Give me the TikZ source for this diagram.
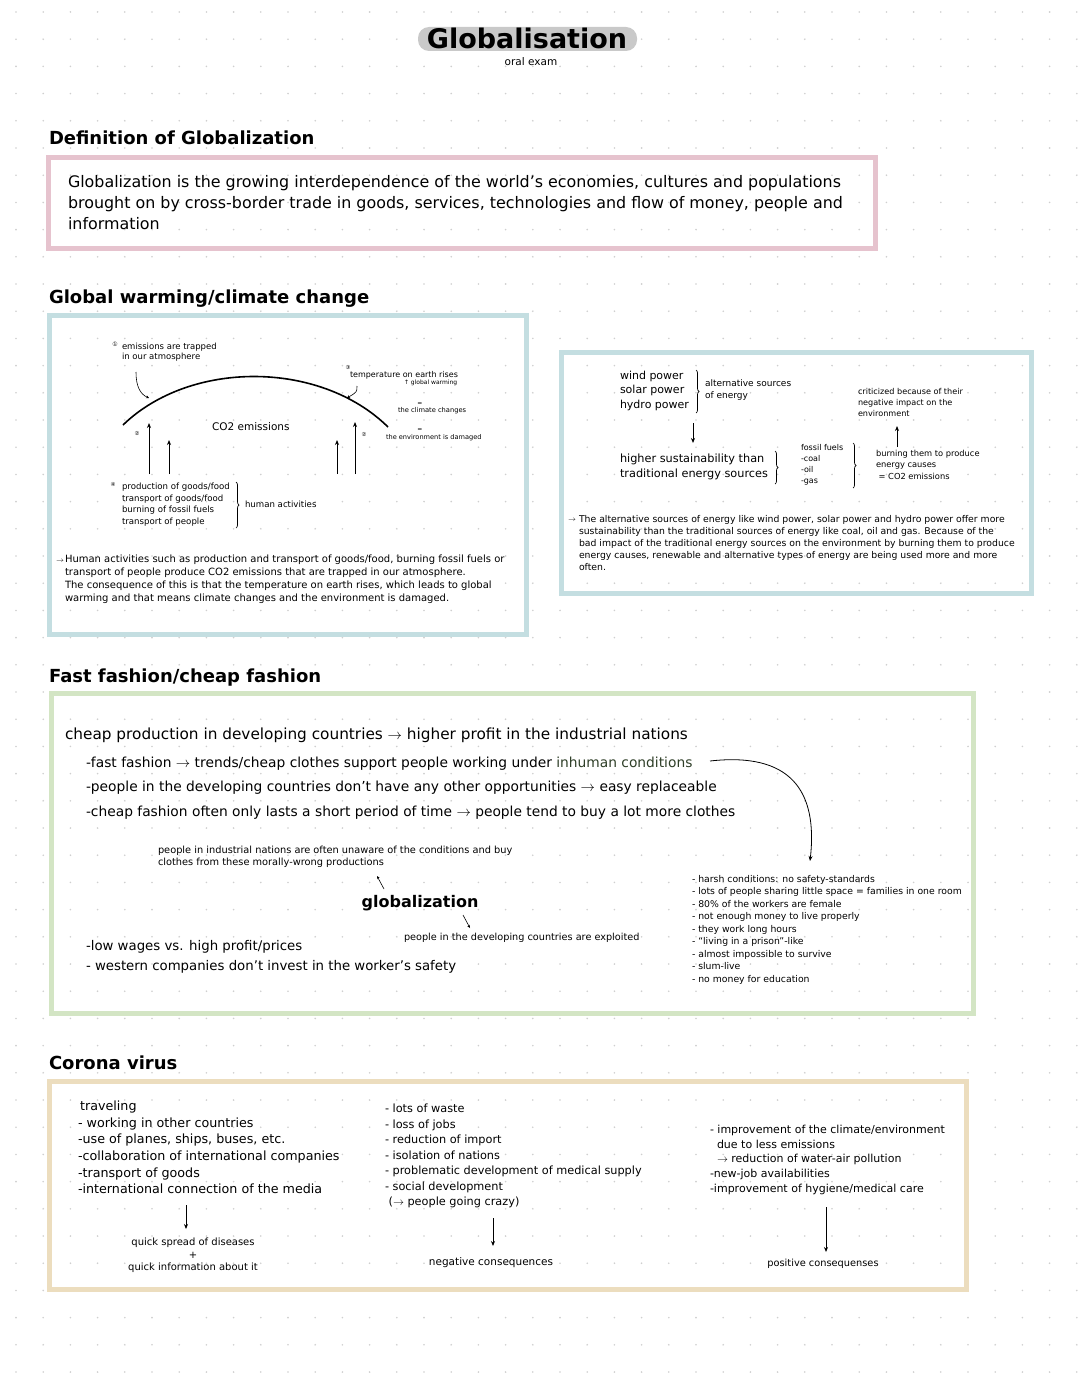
\documentclass[tikz,border=0pt]{standalone}
\usepackage{fontspec}
\setmainfont{DejaVu Sans}
\newfontfamily\dv{DejaVu Sans}
\usetikzlibrary{decorations.pathreplacing,arrows.meta}
\definecolor{dotc}{HTML}{CFCFCF}
\definecolor{pinkb}{HTML}{E6C3CE}
\definecolor{blueb}{HTML}{C4DEE1}
\definecolor{greenb}{HTML}{D3E5C4}
\definecolor{tanb}{HTML}{ECDDBE}
\definecolor{hl}{HTML}{C9C9C9}
\newcommand\fs[2]{\fontsize{#1}{#2}\selectfont}
\begin{document}
\begin{tikzpicture}[x=1pt,y=-1pt,
  t/.style={anchor=north west,inner sep=0pt,outer sep=0pt,align=left},
  tc/.style={anchor=north,inner sep=0pt,outer sep=0pt,align=center},
  head/.style={t,font=\fs{18}{22}\bfseries},
  frame/.style={line width=5pt},
  arr/.style={-{Stealth[length=5pt,width=4pt]},line width=0.9pt},
  sarr/.style={-{Stealth[length=3pt,width=3pt]},line width=0.6pt},
  brk/.style={decorate,decoration={brace,amplitude=3pt},line width=0.7pt}]
\useasboundingbox (0,0) rectangle (1080,1394);
\fill[white] (0,0) rectangle (1080,1394);
\foreach \i in {0,...,39}{\foreach \j in {0,...,51}{\fill[dotc] (16+\i*27.2,12+\j*27.2) circle (0.9);}}
% title
\fill[hl,rounded corners=11pt] (418,27) rectangle (637,51);
\node[inner sep=0pt,font=\fs{27}{30}\bfseries] (title) at (527,38) {Globalisation};
\node[inner sep=0pt,font=\fs{10.5}{12}] (oral) at (531,62) {oral exam};
% definition
\node[head] (h1) at (49,131) {Definition of Globalization};
\draw[frame,pinkb] (48,157) rectangle (875,248);
\node[t,font=\fs{15.9}{21}] (def) at (68,175) {Globalization is the growing interdependence of the world's economies, cultures and populations\\brought on by cross-border trade in goods, services, technologies and flow of money, people and\\information};
% global warming
\node[head] (h2) at (49,290) {Global warming/climate change};
\draw[frame,blueb] (49,315) rectangle (526,634);
\draw[frame,blueb] (561,352) rectangle (1031,593);
\node[inner sep=0pt,font=\dv\fs{6}{7}] (n1) at (115,344) {①};
\node[t,font=\fs{8.5}{10.5}] (emis) at (122,343) {emissions are trapped\\in our atmosphere};
\draw[line width=1.6pt] (123,425) .. controls (190,360) and (320,360) .. (388,427);
\coordinate (c1a) at (136,372); \coordinate (c1b) at (149,398);
\draw[sarr] (c1a) .. controls (136,386) and (140,394) .. (c1b);
\node[inner sep=0pt,font=\dv\fs{5.5}{6}] (n3) at (348,367) {③};
\node[t,font=\fs{8}{9}] (temp) at (350,371) {temperature on earth rises};
\node[t,font=\fs{6}{7}] (gw) at (404,380) {↑ global warming};
\node[inner sep=0pt,font=\fs{6}{6}] (eq1) at (420,404) {=};
\node[t,font=\fs{6.7}{8}] (clim) at (398,407) {the climate changes};
\node[inner sep=0pt,font=\fs{6}{6}] (eq2) at (420,430) {=};
\node[t,font=\fs{6.6}{8}] (envd) at (386,434) {the environment is damaged};
\coordinate (c3a) at (357,386); \coordinate (c3b) at (347,398);
\draw[sarr] (c3a) .. controls (357,392) .. (c3b);
\node[t,font=\fs{10.5}{13}] (co2) at (212,423) {CO2 emissions};
\node[inner sep=0pt,font=\dv\fs{5.5}{6}] (n2a) at (137,433) {②};
\node[inner sep=0pt,font=\dv\fs{5.5}{6}] (n2b) at (364,434) {②};
\coordinate (a1b) at (149,474); \coordinate (a1t) at (149,423);
\coordinate (a2b) at (169,474); \coordinate (a2t) at (169,440);
\coordinate (a3b) at (337,474); \coordinate (a3t) at (337,440);
\coordinate (a4b) at (355,474); \coordinate (a4t) at (355,422);
\draw[arr] (a1b) -- (a1t); \draw[arr] (a2b) -- (a2t);
\draw[arr] (a3b) -- (a3t); \draw[arr] (a4b) -- (a4t);
\node[inner sep=0pt,font=\dv\fs{5.5}{6}] (n4) at (113,484) {④};
\node[t,font=\fs{8.6}{11.5}] (hact) at (122,483) {production of goods/food\\transport of goods/food\\burning of fossil fuels\\transport of people};
\coordinate (b1t) at (236,482); \coordinate (b1b) at (236,528);
\draw[brk] (b1t) -- (b1b);
\node[t,font=\fs{8.6}{10}] (hum) at (245,501) {human activities};
\node[t,font=\fs{10}{13}] (gwp) at (65,555) {Human activities such as production and transport of goods/food, burning fossil fuels or\\transport of people produce CO2 emissions that are trapped in our atmosphere.\\The consequence of this is that the temperature on earth rises, which leads to global\\warming and that means climate changes and the environment is damaged.};
\node[inner sep=0pt,font=\fs{7}{8}] (gwa) at (60,561) {$\rightarrow$};
% energy
\node[t,font=\fs{11}{14.5}] (alt) at (620,371) {wind power\\solar power\\hydro power};
\coordinate (b2t) at (696,370); \coordinate (b2b) at (696,413);
\draw[brk] (b2t) -- (b2b);
\node[t,font=\fs{9}{12}] (alts) at (705,380) {alternative sources\\of energy};
\coordinate (e1t) at (693,423); \coordinate (e1b) at (693,443);
\draw[arr] (e1t) -- (e1b);
\node[t,font=\fs{11.3}{14.5}] (sus) at (620,454) {higher sustainability than\\traditional energy sources};
\coordinate (b3t) at (775,451); \coordinate (b3b) at (775,484);
\draw[brk] (b3t) -- (b3b);
\node[t,font=\fs{8}{11}] (fos) at (801,444) {fossil fuels\\-coal\\-oil\\-gas};
\coordinate (b4t) at (853,443); \coordinate (b4b) at (853,488);
\draw[brk] (b4t) -- (b4b);
\node[t,font=\fs{8.1}{11}] (crit) at (858,388) {criticized because of their\\negative impact on the\\environment};
\coordinate (e2b) at (897,447); \coordinate (e2t) at (897,426);
\draw[arr] (e2b) -- (e2t);
\node[t,font=\fs{8.3}{11.5}] (burn) at (876,450) {burning them to produce\\energy causes\\\ = CO2 emissions};
\node[t,font=\fs{9.3}{12.2}] (enp) at (579,515) {The alternative sources of energy like wind power, solar power and hydro power offer more\\sustainability than the traditional sources of energy like coal, oil and gas. Because of the\\bad impact of the traditional energy sources on the environment by burning them to produce\\energy causes, renewable and alternative types of energy are being used more and more\\often.};
\node[inner sep=0pt,font=\fs{7}{8}] (ena) at (572,520) {$\rightarrow$};
% fast fashion
\node[head] (h3) at (49,669) {Fast fashion/cheap fashion};
\draw[frame,greenb] (51,693) rectangle (973,1013);
\node[t,font=\fs{15.3}{18}] (ff1) at (65,728) {cheap production in developing countries $\rightarrow$ higher profit in the industrial nations};
\node[t,font=\fs{13.8}{24.5}] (ff2) at (86,757) {-fast fashion $\rightarrow$ trends/cheap clothes support people working under \textcolor[HTML]{2F3F28}{inhuman conditions}\\-people in the developing countries don't have any other opportunities $\rightarrow$ easy replaceable\\-cheap fashion often only lasts a short period of time $\rightarrow$ people tend to buy a lot more clothes};
\coordinate (cvs) at (710,761); \coordinate (cve) at (810,861);
\draw[arr,line width=0.8pt] (cvs) .. controls (790,752) and (818,790) .. (cve);
\node[t,font=\fs{9.8}{12}] (unaw) at (158,846) {people in industrial nations are often unaware of the conditions and buy\\clothes from these morally-wrong productions};
\node[inner sep=0pt,font=\fs{16}{20}\bfseries] (glob) at (420,903) {globalization};
\coordinate (g1s) at (384,889); \coordinate (g1e) at (377,876);
\draw[sarr] (g1s) -- (g1e);
\coordinate (g2s) at (463,915); \coordinate (g2e) at (470,928);
\draw[sarr] (g2s) -- (g2e);
\node[t,font=\fs{9.7}{12}] (expl) at (404,933) {people in the developing countries are exploited};
\node[t,font=\fs{13.3}{20}] (wage) at (86,940) {-low wages vs. high profit/prices\\- western companies don't invest in the worker's safety};
\node[t,font=\fs{9.3}{12.5}] (cond) at (692,875) {- harsh conditions: no safety-standards\\- lots of people sharing little space = families in one room\\- 80\% of the workers are female\\- not enough money to live properly\\- they work long hours\\- ``living in a prison''-like\\- almost impossible to survive\\- slum-live\\- no money for education};
% corona
\node[head] (h4) at (49,1056) {Corona virus};
\draw[frame,tanb] (49,1081) rectangle (966,1289);
\node[t,font=\fs{12.7}{16.6}] (cl) at (78,1101) {\,traveling\\- working in other countries\\-use of planes, ships, buses, etc.\\-collaboration of international companies\\-transport of goods\\-international connection of the media};
\coordinate (k1t) at (186,1205); \coordinate (k1b) at (186,1229);
\draw[arr] (k1t) -- (k1b);
\node[tc,font=\fs{10}{12.5}] (quick) at (193,1238) {quick spread of diseases\\+\\quick information about it};
\node[t,font=\fs{11.3}{15.5}] (cm) at (385,1104) {- lots of waste\\- loss of jobs\\- reduction of import\\- isolation of nations\\- problematic development of medical supply\\- social development\\\ ($\rightarrow$ people going crazy)};
\coordinate (k2t) at (493,1218); \coordinate (k2b) at (493,1246);
\draw[arr] (k2t) -- (k2b);
\node[tc,font=\fs{10.5}{11}] (neg) at (491,1258) {negative consequences};
\node[t,font=\fs{11}{14.8}] (cr) at (710,1125) {- improvement of the climate/environment\\\ \ due to less emissions\\\ \ $\rightarrow$ reduction of water-air pollution\\-new-job availabilities\\-improvement of hygiene/medical care};
\coordinate (k3t) at (826,1207); \coordinate (k3b) at (826,1252);
\draw[arr] (k3t) -- (k3b);
\node[tc,font=\fs{9.8}{11}] (pos) at (823,1259) {positive consequenses};
\end{tikzpicture}
\end{document}
